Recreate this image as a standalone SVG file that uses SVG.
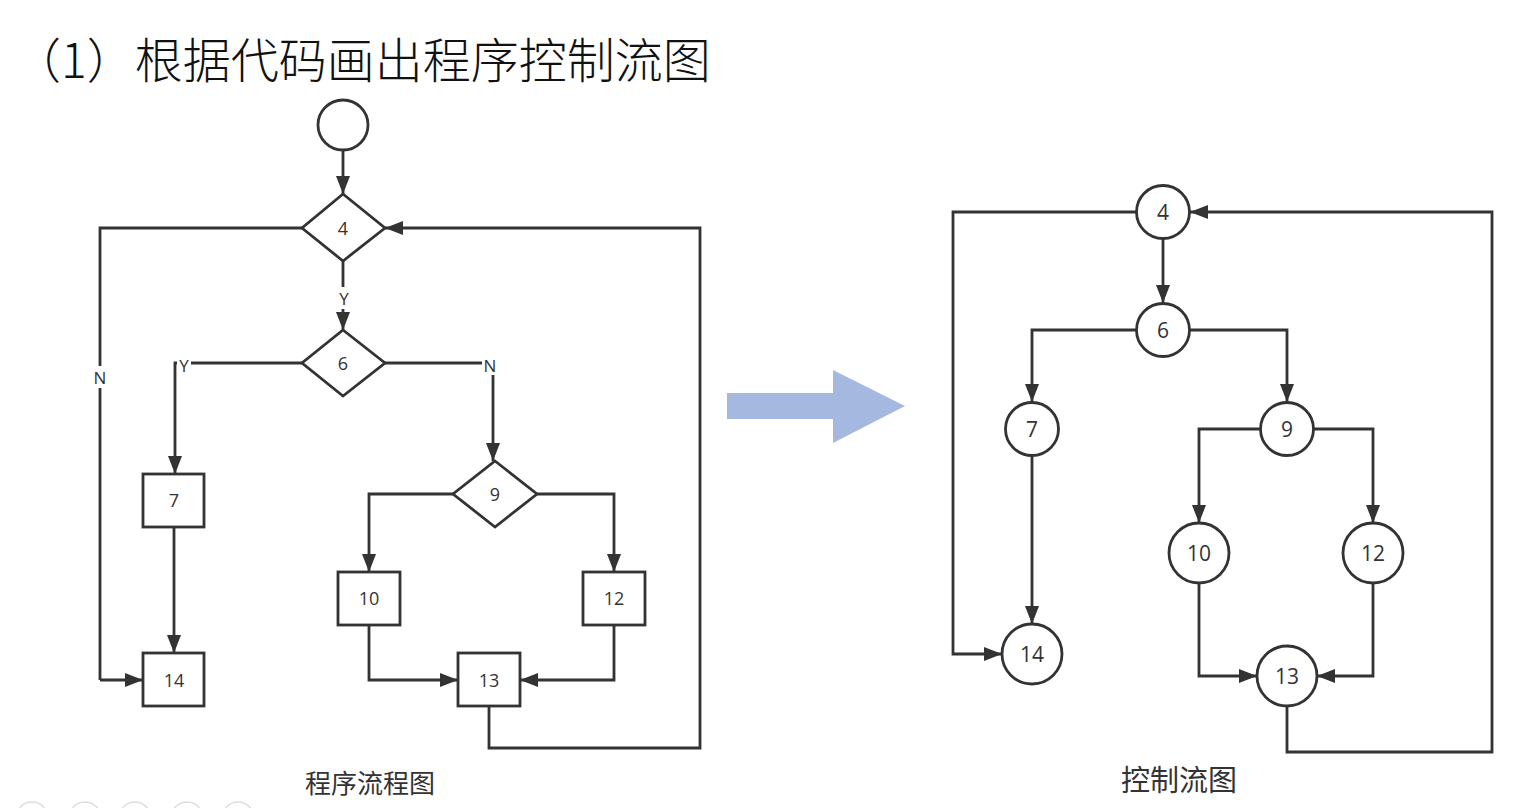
<svg xmlns="http://www.w3.org/2000/svg" width="1534" height="808" viewBox="0 0 1534 808">
  <defs>
    <marker id="arr" viewBox="0 0 18 14" refX="18" refY="7" markerWidth="18" markerHeight="14" markerUnits="userSpaceOnUse" orient="auto">
      <path d="M0,0 L18,7 L0,14 Z" fill="#333"/>
    </marker>
    <style>
      .shape { fill: #fff; stroke: #333; stroke-width: 2.8; }
      .edge { fill: none; stroke: #333; stroke-width: 2.8; }
      .edge-a { fill: none; stroke: #333; stroke-width: 2.8; marker-end: url(#arr); }
      .lbl { font-family: "Open Sans", "Noto Sans", sans-serif; font-size: 18px; fill: #333; text-anchor: middle; dominant-baseline: central; }
      .big { font-size: 21px; }
      .yn { font-family: "Open Sans", "Noto Sans", sans-serif; font-size: 17px; fill: #333; text-anchor: middle; dominant-baseline: central; }
      .cap { font-family: "Noto Sans CJK SC", "Noto Sans", sans-serif; fill: #333; text-anchor: middle; }
      .dots { fill: none; stroke: #ddd; stroke-width: 1.5; }
    </style>
  </defs>
  <rect width="1534" height="808" fill="#fff"/>

  <!-- heading -->
  <text x="13" y="78" font-family="Noto Sans CJK SC, Noto Sans, sans-serif" font-size="48" fill="#111" font-weight="300">（1）根据代码画出程序控制流图</text>

  <!-- program flowchart: connectors -->
  <g id="flow-edges">
    <path class="edge-a" d="M343,150 L343,194"/>
    <path class="edge-a" d="M343,261 L343,330"/>
    <path class="edge" d="M302,228 L100,228 L100,680"/>
    <path class="edge-a" d="M100,680 L143,680"/>
    <path class="edge-a" d="M302,363 L175,363 L175,474"/>
    <path class="edge-a" d="M385,363 L493,363 L493,461"/>
    <path class="edge-a" d="M174,527 L174,653"/>
    <path class="edge-a" d="M453,494 L369,494 L369,572"/>
    <path class="edge-a" d="M537,494 L614,494 L614,572"/>
    <path class="edge-a" d="M369,625 L369,680 L458,680"/>
    <path class="edge-a" d="M614,625 L614,680 L520,680"/>
    <path class="edge-a" d="M489,706 L489,748 L700,748 L700,228 L385,228"/>
    <!-- branch labels -->
    <rect x="335" y="287" width="16" height="22" fill="#fff"/>
    <text class="yn" x="344" y="298">Y</text>
    <rect x="92" y="366" width="17" height="22" fill="#fff"/>
    <text class="yn" x="100" y="377">N</text>
    <rect x="177" y="353" width="14" height="22" fill="#fff"/>
    <text class="yn" x="184" y="365">Y</text>
    <rect x="482" y="353" width="17" height="22" fill="#fff"/>
    <text class="yn" x="490" y="365">N</text>
  </g>

  <!-- program flowchart: nodes -->
  <g id="f-start"><circle class="shape" cx="343" cy="125" r="25"/></g>
  <g id="f-4"><path class="shape" d="M343,194 L385,228 L343,261 L302,228 Z"/><text class="lbl" x="343" y="228">4</text></g>
  <g id="f-6"><path class="shape" d="M343,330 L385,363 L343,396 L302,363 Z"/><text class="lbl" x="343" y="363">6</text></g>
  <g id="f-9"><path class="shape" d="M495,461 L537,494 L495,527 L453,494 Z"/><text class="lbl" x="495" y="494">9</text></g>
  <g id="f-7"><rect class="shape" x="143" y="474" width="61" height="53"/><text class="lbl" x="174" y="500">7</text></g>
  <g id="f-14"><rect class="shape" x="143" y="653" width="61" height="53"/><text class="lbl" x="174" y="680">14</text></g>
  <g id="f-10"><rect class="shape" x="338" y="572" width="62" height="53"/><text class="lbl" x="369" y="598">10</text></g>
  <g id="f-12"><rect class="shape" x="583" y="572" width="62" height="53"/><text class="lbl" x="614" y="598">12</text></g>
  <g id="f-13"><rect class="shape" x="458" y="653" width="62" height="53"/><text class="lbl" x="489" y="680">13</text></g>

  <text class="cap" x="370" y="793" font-size="26">程序流程图</text>

  <!-- transition arrow -->
  <path id="transition" d="M727,393 L833,393 L833,370 L905,406 L833,443 L833,419 L727,419 Z" fill="#a4b8e0"/>

  <!-- control flow graph: connectors -->
  <g id="cfg-edges">
    <path class="edge-a" d="M1163,238 L1163,303"/>
    <path class="edge-a" d="M1136,212 L953,212 L953,654 L1002,654"/>
    <path class="edge-a" d="M1136,330 L1032,330 L1032,402"/>
    <path class="edge-a" d="M1190,330 L1287,330 L1287,402"/>
    <path class="edge-a" d="M1032,456 L1032,624"/>
    <path class="edge-a" d="M1260,429 L1199,429 L1199,523"/>
    <path class="edge-a" d="M1314,429 L1373,429 L1373,523"/>
    <path class="edge-a" d="M1199,583 L1199,676 L1257,676"/>
    <path class="edge-a" d="M1373,583 L1373,676 L1317,676"/>
    <path class="edge-a" d="M1287,706 L1287,752 L1492,752 L1492,212 L1190,212"/>
  </g>

  <!-- control flow graph: nodes -->
  <g id="c-4"><circle class="shape" cx="1163" cy="212" r="26.5"/><text class="lbl big" x="1163" y="212">4</text></g>
  <g id="c-6"><circle class="shape" cx="1163" cy="330" r="26.5"/><text class="lbl big" x="1163" y="330">6</text></g>
  <g id="c-7"><circle class="shape" cx="1032" cy="429" r="26.5"/><text class="lbl big" x="1032" y="429">7</text></g>
  <g id="c-9"><circle class="shape" cx="1287" cy="429" r="26.5"/><text class="lbl big" x="1287" y="429">9</text></g>
  <g id="c-10"><circle class="shape" cx="1199" cy="553" r="30"/><text class="lbl big" x="1199" y="553">10</text></g>
  <g id="c-12"><circle class="shape" cx="1373" cy="553" r="30"/><text class="lbl big" x="1373" y="553">12</text></g>
  <g id="c-13"><circle class="shape" cx="1287" cy="676" r="30"/><text class="lbl big" x="1287" y="676">13</text></g>
  <g id="c-14"><circle class="shape" cx="1032" cy="654" r="30"/><text class="lbl big" x="1032" y="654">14</text></g>

  <text class="cap" x="1179" y="791" font-size="29">控制流图</text>

  <!-- faint round buttons along the lower edge -->
  <g id="bottom-dots">
    <circle class="dots" cx="32" cy="818" r="16"/>
    <circle class="dots" cx="85" cy="818" r="16"/>
    <circle class="dots" cx="135" cy="818" r="16"/>
    <circle class="dots" cx="187" cy="818" r="16"/>
    <circle class="dots" cx="238" cy="818" r="16"/>
  </g>
</svg>
